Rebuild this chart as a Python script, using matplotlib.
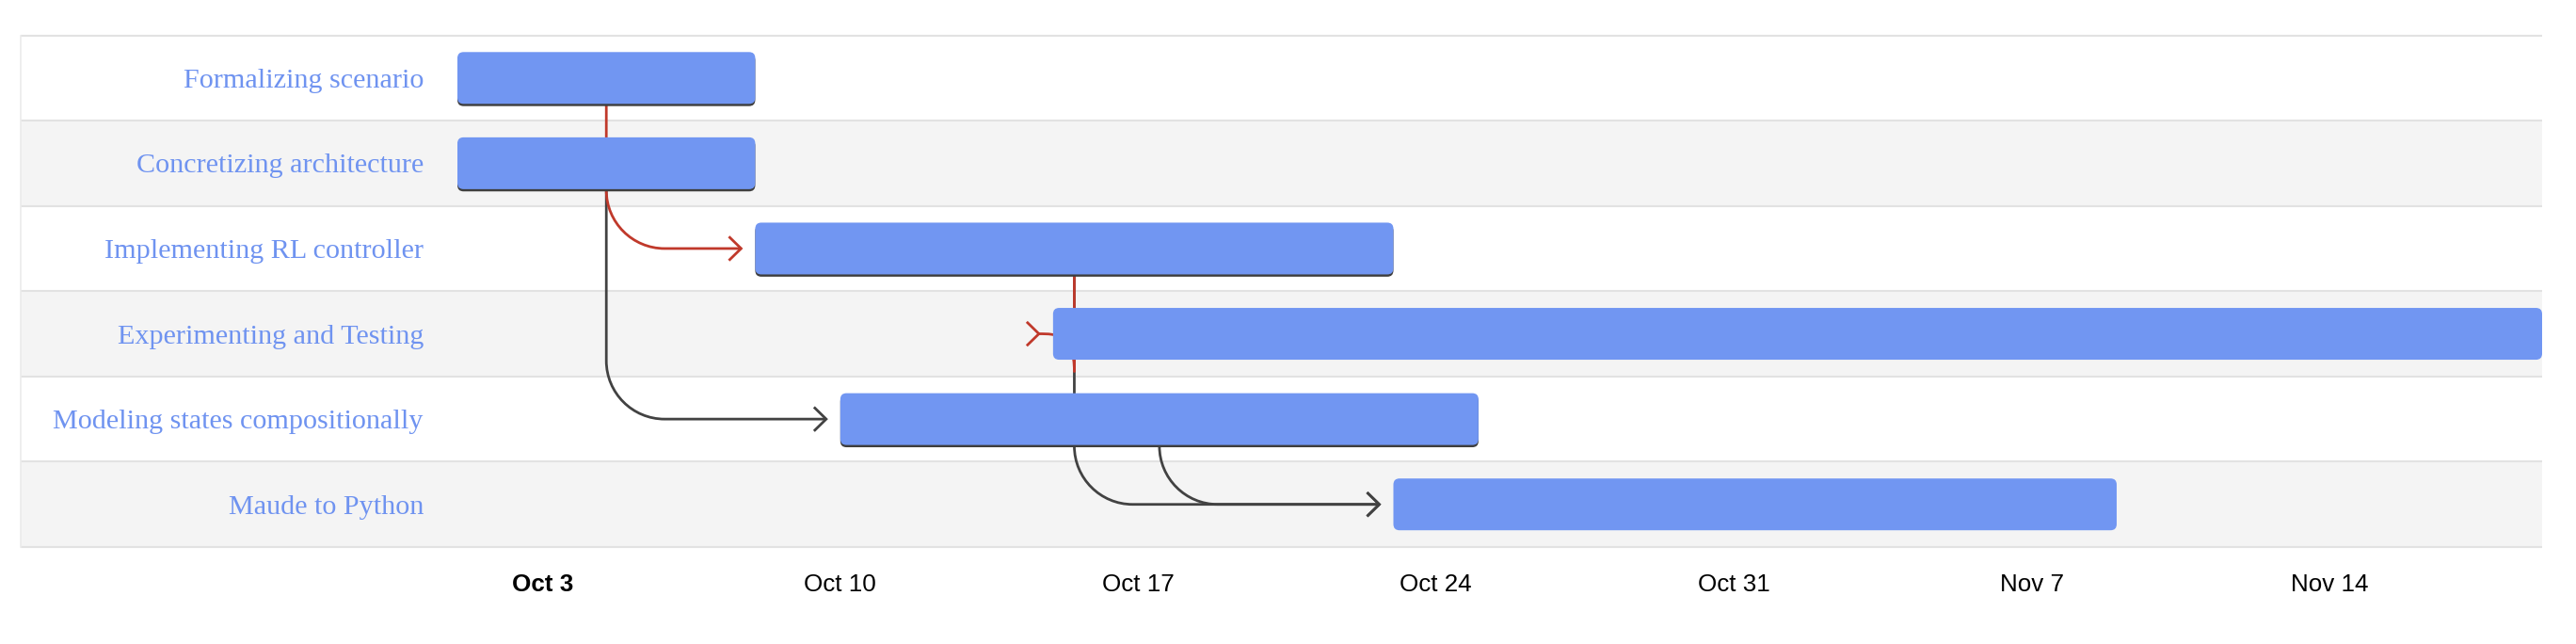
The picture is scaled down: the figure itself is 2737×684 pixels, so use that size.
import matplotlib
matplotlib.use("Agg")
import matplotlib.pyplot as plt
import matplotlib.dates as mdates
import matplotlib.transforms as mtransforms
from matplotlib.patches import FancyBboxPatch, Rectangle, PathPatch
from matplotlib.path import Path

# ---------------- data ----------------
tasks = ["Formalizing scenario", "Concretizing architecture", "Implementing RL controller",
         "Experimenting and Testing", "Modeling states compositionally", "Maude to Python"]
start_dates = ["2022-10-01", "2022-10-01", "2022-10-08", "2022-10-15", "2022-10-10", "2022-10-23"]
end_dates = ["2022-10-08", "2022-10-08", "2022-10-23", "2022-11-19", "2022-10-25", "2022-11-09"]
dep_from = [0, 1, 2, 2, 4]
dep_to = [2, 4, 3, 5, 5]
dep_critical = [True, False, True, False, False]
tick_dates = ["2022-10-03", "2022-10-10", "2022-10-17", "2022-10-24", "2022-10-31", "2022-11-07", "2022-11-14"]
tick_labels = ["Oct 3", "Oct 10", "Oct 17", "Oct 24", "Oct 31", "Nov 7", "Nov 14"]
axis_start = "2022-10-01"
axis_end = "2022-11-19"

# ---------------- style ----------------
W, H, DPI = 2737, 684, 100
BAR_COLOR = "#7196F2"
LABEL_COLOR = "#6F93F0"
STRIPE = "#F4F4F4"
GRID = "#E2E2E2"
RED = "#C0392B"
DARK = "#424242"
SHADOW = "#3E3E3E"

ax_left_px, ax_right_px, ax_top_px, ax_bot_px = 486, 2701, 37.5, 581
table_left_px = 22

fig = plt.figure(figsize=(W / DPI, H / DPI), dpi=DPI)
ax = fig.add_axes([ax_left_px / W, 1 - ax_bot_px / H,
                   (ax_right_px - ax_left_px) / W, (ax_bot_px - ax_top_px) / H])
ax.patch.set_visible(False)

starts = mdates.datestr2num(start_dates)
ends = mdates.datestr2num(end_dates)
xmin, xmax = mdates.datestr2num(axis_start), mdates.datestr2num(axis_end)
n = len(tasks)
ax.set_xlim(xmin, xmax)
ax.set_ylim(n, 0)

px_day = (ax_right_px - ax_left_px) / (xmax - xmin)
px_row = (ax_bot_px - ax_top_px) / n
def dx(p): return p / px_day
def dy(p): return p / px_row

# row backgrounds & lines (extend into label area)
blend = mtransforms.blended_transform_factory(fig.transFigure, ax.transData)
for i in range(n):
    ax.add_patch(Rectangle((table_left_px / W, i), (ax_right_px - table_left_px) / W, 1,
                           transform=blend, facecolor=("white" if i % 2 == 0 else STRIPE),
                           edgecolor="none", clip_on=False, zorder=0))
for i in range(n + 1):
    ax.plot([table_left_px / W, ax_right_px / W], [i, i], transform=blend,
            color=GRID, lw=1.5, clip_on=False, zorder=1, solid_capstyle="butt")
ax.plot([table_left_px / W, table_left_px / W], [0, n], transform=blend,
        color="#EBEBEB", lw=1.2, clip_on=False, zorder=1)

# bars
bar_h = dy(55)
aspect = px_day / px_row
rad = dx(6.5)
has_out = set(dep_from)
for i in range(n):
    y0 = i + 0.5 - bar_h / 2
    if i in has_out:
        ax.add_patch(FancyBboxPatch((starts[i], y0 + dy(2.4)), ends[i] - starts[i], bar_h,
                                    boxstyle=f"round,pad=0,rounding_size={rad}",
                                    mutation_aspect=aspect, facecolor=SHADOW,
                                    edgecolor="none", zorder=5))
    ax.add_patch(FancyBboxPatch((starts[i], y0), ends[i] - starts[i], bar_h,
                                boxstyle=f"round,pad=0,rounding_size={rad}",
                                mutation_aspect=aspect, facecolor=BAR_COLOR,
                                edgecolor="none", zorder=6))

# dependency arrows
Rx, Ry = dx(62), dy(62)
k = 0.5523
tip_gap = dx(15)
LW = 2.0
for s, t, crit in zip(dep_from, dep_to, dep_critical):
    col = RED if crit else DARK
    z = 4 if crit else 3
    mid = (starts[s] + ends[s]) / 2
    ybot = s + 0.5 + bar_h / 2
    tc = t + 0.5
    tip = starts[t] - tip_gap
    if tip > mid + Rx:
        verts = [(mid, ybot), (mid, tc - Ry),
                 (mid, tc - Ry + k * Ry), (mid + Rx - k * Rx, tc), (mid + Rx, tc),
                 (tip, tc)]
        codes = [Path.MOVETO, Path.LINETO, Path.CURVE4, Path.CURVE4, Path.CURVE4, Path.LINETO]
    else:
        ylow = tc + dy(40)
        verts = [(mid, ybot), (mid, ylow),
                 (mid, tc), ((mid + tip) / 2, tc), (tip, tc)]
        codes = [Path.MOVETO, Path.LINETO, Path.CURVE4, Path.CURVE4, Path.CURVE4]
    ax.add_patch(PathPatch(Path(verts, codes), facecolor="none", edgecolor=col,
                           lw=LW, zorder=z, capstyle="butt", joinstyle="round"))
    ax.plot([tip - dx(13), tip, tip - dx(13)], [tc - dy(12.7), tc, tc + dy(12.7)],
            color=col, lw=LW, zorder=z, solid_joinstyle="miter", solid_capstyle="butt")

# axes / ticks
for sp in ax.spines.values():
    sp.set_visible(False)
ax.set_yticks([i + 0.5 for i in range(n)])
ax.set_yticklabels(tasks, fontfamily="Liberation Serif", fontsize=21.7, color=LABEL_COLOR)
ax.tick_params(axis="y", length=0, pad=(ax_left_px - 450) * 0.72)
ax.set_xticks(mdates.datestr2num(tick_dates))
ax.set_xticklabels(tick_labels, fontfamily="Liberation Sans", fontsize=18.7, color="black")
ax.tick_params(axis="x", length=0, pad=20)
ax.get_xticklabels()[0].set_fontweight("bold")

fig.savefig("out.png", dpi=DPI, facecolor="white")
